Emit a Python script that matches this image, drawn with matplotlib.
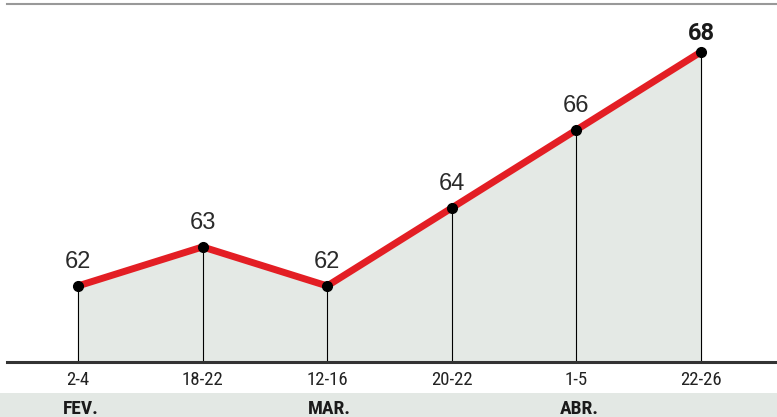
import matplotlib.pyplot as plt
from matplotlib.patches import Rectangle

# dados
semanas = ["2-4", "18-22", "12-16", "20-22", "1-5", "22-26"]
valores = [62, 63, 62, 64, 66, 68]
meses = ["FEV.", "MAR.", "ABR."]
meses_pos = [0, 2, 4]

narrow = ["Roboto Condensed", "Liberation Sans Narrow", "DejaVu Sans"]
plt.rcParams['font.family'] = ["Liberation Sans", "DejaVu Sans"]

fig = plt.figure(figsize=(7.77, 4.17), dpi=100)
ax = fig.add_axes([0, 0, 1, 1])
ax.set_xlim(-0.626, 5.61)
ax.set_ylim(58.64, 69.33)
ax.axis('off')

x = list(range(len(valores)))
base = 60.05

# area sob a linha
ax.fill_between(x, valores, base, color="#e4e9e5", zorder=1)
ax.vlines(x, base, valores, color="black", lw=0.8, zorder=2)

# faixa dos meses
ax.add_patch(Rectangle((0, 0), 1, 24 / 417, transform=ax.transAxes,
                       color="#e3e8e4", lw=0, zorder=0))

# linhas horizontais
ax.axhline(base, xmin=7 / 777, xmax=1, color="#333333", lw=2.2, zorder=3)
ax.axhline(69.23, xmin=7 / 777, xmax=1, color="#999999", lw=1.5, zorder=3)

ax.plot(x, valores, color="#e31e24", lw=5, solid_capstyle='round', zorder=4)
ax.plot(x, valores, 'o', color="black", ms=7, zorder=5)

for i, v in enumerate(valores):
    last = i == len(valores) - 1
    if last:
        ax.annotate(str(v), (i, v), xytext=(0, 5), textcoords='offset points',
                    ha='center', va='bottom', fontsize=17, color="#1a1a1a",
                    fontweight='bold', family=["Roboto", "DejaVu Sans"])
    else:
        ax.annotate(str(v), (i, v), xytext=(0, 9), textcoords='offset points',
                    ha='center', va='bottom', fontsize=17, color="#2a2a2a")

xt = ax.get_xaxis_transform()
for i, s in enumerate(semanas):
    ax.text(i, 1 - 380 / 417, s, transform=xt, ha='center', va='center',
            fontsize=13.5, color="#222222", family=narrow)

for p, m in zip(meses_pos, meses):
    ax.text(p + 0.02, 1 - 409 / 417, m, transform=xt, ha='center', va='center',
            fontsize=14, fontweight='heavy', color="#1a1a1a", family=narrow)

fig.savefig("out.png", dpi=100)
